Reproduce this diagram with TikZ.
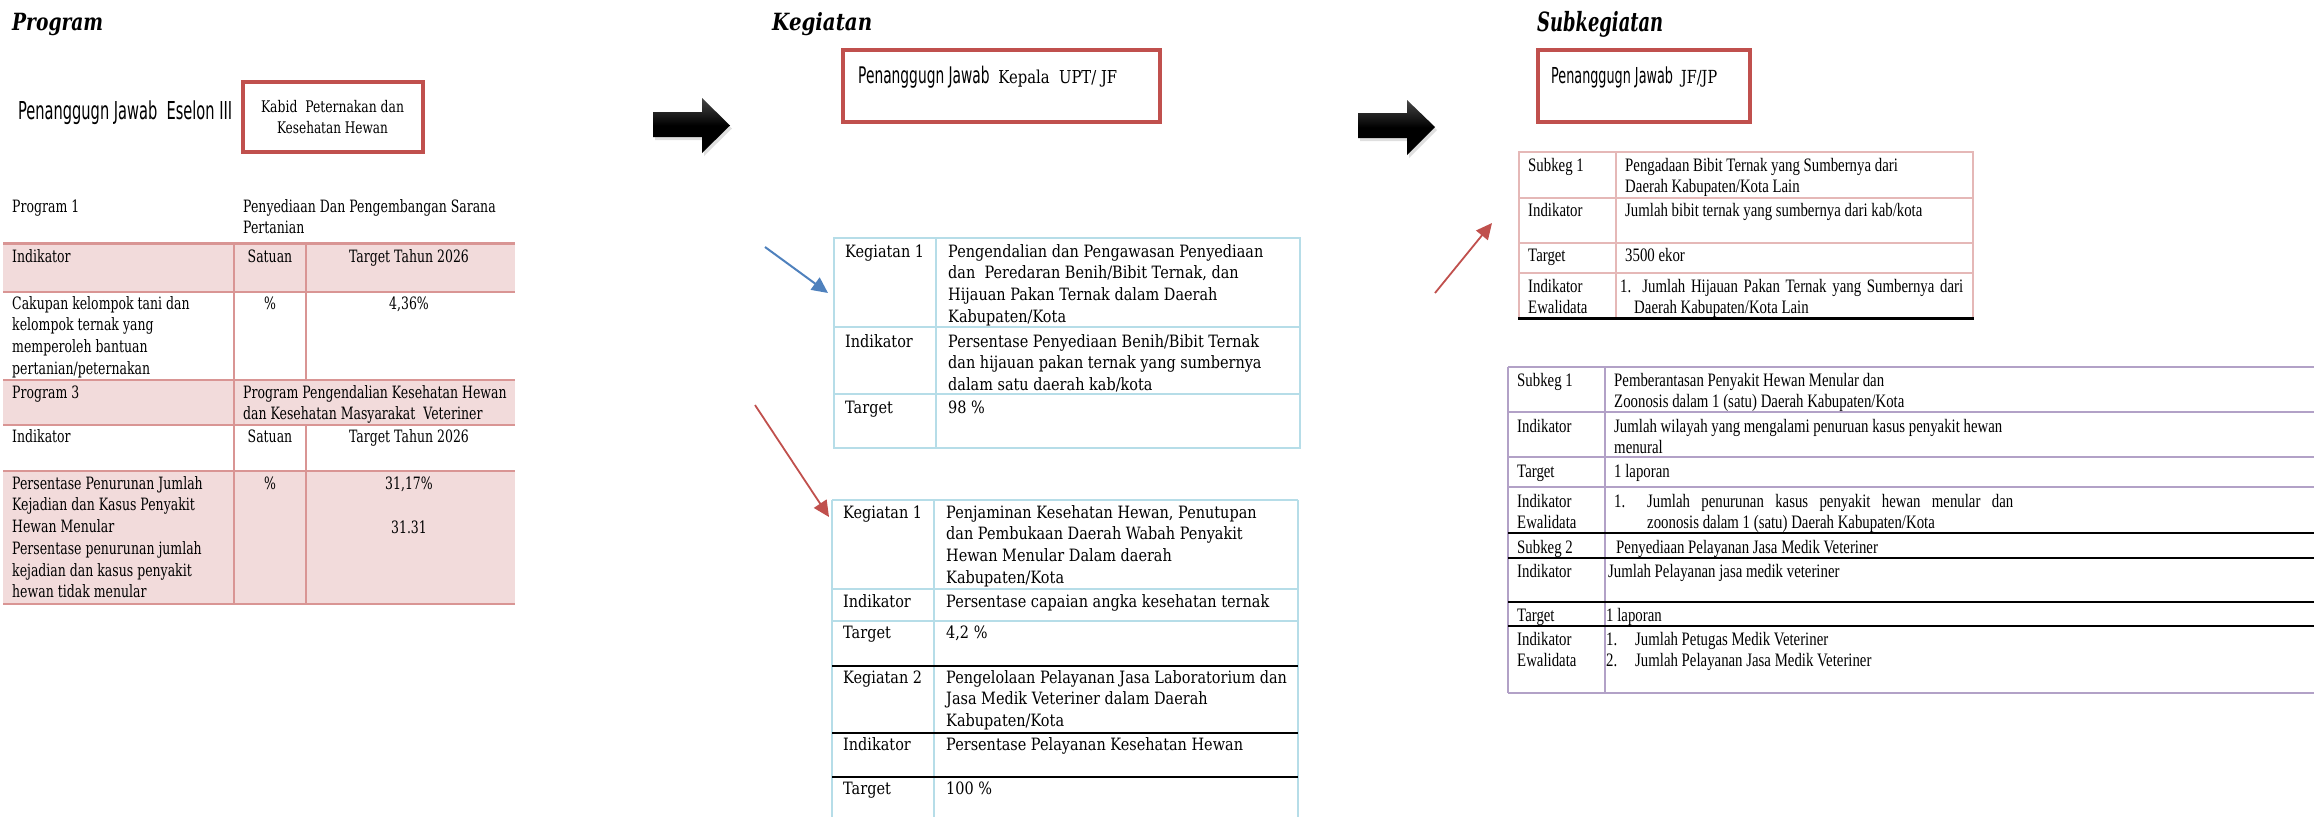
\documentclass[tikz,border=0pt]{standalone}
\usepackage{fontspec}
\usepackage{graphicx}
\usetikzlibrary{arrows.meta,shadows}
\setmainfont{DejaVu Serif}
\newfontfamily\progfont[FakeStretch=0.735]{DejaVu Serif}
\newfontfamily\kegfont[FakeStretch=0.85]{DejaVu Serif}
\newfontfamily\subfont[FakeStretch=0.78]{Liberation Serif}
\newfontfamily\hsans[FakeStretch=0.58]{DejaVu Sans}
\newfontfamily\hser[FakeStretch=0.80]{DejaVu Serif}
\newfontfamily\ttlfont[FakeStretch=0.80]{DejaVu Serif}
\newcommand\strutA{\rule{0pt}{15pt}}
\definecolor{boxred}{HTML}{C0504D}
\definecolor{pinkfill}{HTML}{F2DBDB}
\definecolor{pinkline}{HTML}{D99594}
\definecolor{bluel}{HTML}{B6DDE8}
\definecolor{arrblue}{HTML}{4F81BD}
\definecolor{pinkb}{HTML}{E5B8B7}
\definecolor{lav}{HTML}{B2A1C7}
\tikzset{
  txt/.style={inner sep=0pt, anchor=north west, align=left},
  pf/.style={txt, font=\progfont\fontsize{17}{21.7}\selectfont},
  kf/.style={txt, font=\kegfont\fontsize{17}{21.7}\selectfont},
  sf/.style={txt, font=\subfont\fontsize{19}{21.7}\selectfont},
  hd/.style={inner sep=0pt, anchor=base west},
  redbox/.style={draw=boxred, line width=4pt, inner sep=0pt},
  bigarrow/.style={top color=black!72, bottom color=black, middle color=black,
     drop shadow={opacity=0.25, shadow xshift=2pt, shadow yshift=-3pt}},
  link/.style={line width=2pt, -{Triangle[length=16pt,width=15pt]}},
}
\begin{document}
\begin{tikzpicture}[x=1pt,y=-1pt]
\useasboundingbox (0,0) rectangle (2314,817);

% ---------- titles ----------
\node[hd] (tprog) at (12,30) {\resizebox{91pt}{\height}{\ttlfont\bfseries\itshape\fontsize{23.7}{28}\selectfont Program}};
\node[hd] (tkeg) at (772,30) {\resizebox{100pt}{\height}{\ttlfont\bfseries\itshape\fontsize{23.7}{28}\selectfont Kegiatan}};
\node[hd] (tsub) at (1537,31) {\resizebox{126pt}{\height}{\ttlfont\bfseries\itshape\fontsize{26.5}{30}\selectfont Subkegiatan}};

% ---------- header boxes ----------
\node[hd] (pj1) at (18,119) {\resizebox{214pt}{\height}{\hsans\fontsize{24.7}{30}\selectfont Penanggugn Jawab\ \ Eselon III}};
\node[redbox, minimum width=180pt, minimum height=70pt] (kabidbox) at (333,117) {};
\node[inner sep=0pt, anchor=base] (kab1) at (332.5,112) {\resizebox{143pt}{\height}{\hser\fontsize{16}{20}\selectfont Kabid\ \ Peternakan dan}};
\node[inner sep=0pt, anchor=base] (kab2) at (332.5,133) {\resizebox{111pt}{\height}{\hser\fontsize{16}{20}\selectfont Kesehatan Hewan}};

\node[redbox, minimum width=317pt, minimum height=72pt] (kegbox) at (1001.5,86) {};
\node[hd] (pj2) at (858,83) {\resizebox{259pt}{\height}{\hsans\fontsize{22.9}{28}\selectfont Penanggugn Jawab\ \ \hser\fontsize{17.8}{22}\selectfont Kepala\ \ UPT/ JF}};

\node[redbox, minimum width=212pt, minimum height=72pt] (subbox) at (1644,86) {};
\node[hd] (pj3) at (1551,83) {\resizebox{166pt}{\height}{\hsans\fontsize{22}{28}\selectfont Penanggugn Jawab\ \ \hser\fontsize{18}{22}\selectfont JF/JP}};

% ---------- big black arrows ----------
\path[bigarrow] (653,112) -- (702,112) -- (702,98) -- (730,125.5) -- (702,153) -- (702,137) -- (653,137) -- cycle;
\path[bigarrow] (1358,113) -- (1407,113) -- (1407,100) -- (1435,127) -- (1407,155) -- (1407,138) -- (1358,138) -- cycle;

% ---------- program table ----------
\fill[pinkfill] (3,243) rectangle (515,292);
\fill[pinkfill] (3,380) rectangle (515,425);
\fill[pinkfill] (3,471) rectangle (515,604);
\draw[pinkline, line width=3pt] (3,243) -- (515,243);
\draw[pinkline, line width=1.5pt] (3,292) -- (515,292) (3,380) -- (515,380) (3,425) -- (515,425)
   (3,471) -- (515,471) (3,604) -- (515,604);
\draw[pinkline, line width=1.5pt] (234,243) -- (234,604) (306,243) -- (306,380) (306,425) -- (306,604);

\node[pf] (p1l) at (12,197) {\strutA Program 1};
\node[pf] (p1r) at (243,197) {\strutA Penyediaan Dan Pengembangan Sarana\\Pertanian};
\node[pf] (h1a) at (12,247) {\strutA Indikator};
\node[pf, anchor=north] (h1b) at (270,247) {\strutA Satuan};
\node[pf, anchor=north] (h1c) at (409,247) {\strutA Target Tahun 2026};
\node[pf] (r1a) at (12,294) {\strutA Cakupan kelompok tani dan\\kelompok ternak yang\\memperoleh bantuan\\pertanian/peternakan};
\node[pf, anchor=north] (r1b) at (270,294) {\strutA \%};
\node[pf, anchor=north] (r1c) at (409,294) {\strutA 4,36\%};
\node[pf] (p3l) at (12,383) {\strutA Program 3};
\node[pf] (p3r) at (243,383) {\strutA Program Pengendalian Kesehatan Hewan\\dan Kesehatan Masyarakat\ \ Veteriner};
\node[pf] (h2a) at (12,427) {\strutA Indikator};
\node[pf, anchor=north] (h2b) at (270,427) {\strutA Satuan};
\node[pf, anchor=north] (h2c) at (409,427) {\strutA Target Tahun 2026};
\node[pf] (r2a) at (12,474) {\strutA Persentase Penurunan Jumlah\\Kejadian dan Kasus Penyakit\\Hewan Menular\\Persentase penurunan jumlah\\kejadian dan kasus penyakit\\hewan tidak menular};
\node[pf, anchor=north] (r2b) at (270,474) {\strutA \%};
\node[pf, anchor=north] (r2c) at (409,474) {\strutA 31,17\%};
\node[pf, anchor=north] (r2d) at (409,518) {\strutA 31.31};

% ---------- kegiatan table 1 ----------
\draw[bluel, line width=2pt] (834,238) rectangle (1300,448);
\draw[bluel, line width=2pt] (834,327) -- (1300,327) (834,394) -- (1300,394) (936,238) -- (936,448);
\node[kf] (k1a) at (845,242) {\strutA Kegiatan 1};
\node[kf] (k1b) at (948,242) {\strutA Pengendalian dan Pengawasan Penyediaan\\dan\ \ Peredaran Benih/Bibit Ternak, dan\\Hijauan Pakan Ternak dalam Daerah\\Kabupaten/Kota};
\node[kf] (k1c) at (845,332) {\strutA Indikator};
\node[kf] (k1d) at (948,332) {\strutA Persentase Penyediaan Benih/Bibit Ternak\\dan hijauan pakan ternak yang sumbernya\\dalam satu daerah kab/kota};
\node[kf] (k1e) at (845,398) {\strutA Target};
\node[kf] (k1f) at (948,398) {\strutA 98 \%};

% ---------- kegiatan table 2 ----------
\draw[bluel, line width=2pt] (832,500) -- (832,817) (934,500) -- (934,817) (1298,500) -- (1298,817)
   (832,500) -- (1298,500) (832,589) -- (1298,589) (832,621) -- (1298,621);
\draw[black, line width=2pt] (832,666) -- (1298,666) (832,733) -- (1298,733) (832,777) -- (1298,777);
\node[kf] (k2a) at (843,503) {\strutA Kegiatan 1};
\node[kf] (k2b) at (946,503) {\strutA Penjaminan Kesehatan Hewan, Penutupan\\dan Pembukaan Daerah Wabah Penyakit\\Hewan Menular Dalam daerah\\Kabupaten/Kota};
\node[kf] (k2c) at (843,592) {\strutA Indikator};
\node[kf] (k2d) at (946,592) {\strutA Persentase capaian angka kesehatan ternak};
\node[kf] (k2e) at (843,623) {\strutA Target};
\node[kf] (k2f) at (946,623) {\strutA 4,2 \%};
\node[kf] (k2g) at (843,668) {\strutA Kegiatan 2};
\node[kf] (k2h) at (946,668) {\strutA Pengelolaan Pelayanan Jasa Laboratorium dan\\Jasa Medik Veteriner dalam Daerah\\Kabupaten/Kota};
\node[kf] (k2i) at (843,735) {\strutA Indikator};
\node[kf] (k2j) at (946,735) {\strutA Persentase Pelayanan Kesehatan Hewan};
\node[kf] (k2k) at (843,779) {\strutA Target};
\node[kf] (k2l) at (946,779) {\strutA 100 \%};

% ---------- subkegiatan table 1 ----------
\draw[pinkb, line width=2pt] (1519,152) rectangle (1973,318);
\draw[pinkb, line width=2pt] (1519,198) -- (1973,198) (1519,243) -- (1973,243) (1519,273) -- (1973,273) (1616,152) -- (1616,318);
\draw[black, line width=3pt] (1518,318) -- (1974,318);
\node[sf] (s1a) at (1528,156) {\strutA Subkeg 1};
\node[sf] (s1b) at (1625,156) {\strutA Pengadaan Bibit Ternak yang Sumbernya dari\\Daerah Kabupaten/Kota Lain};
\node[sf] (s1c) at (1528,201) {\strutA Indikator};
\node[sf] (s1d) at (1625,201) {\strutA Jumlah bibit ternak yang sumbernya dari kab/kota};
\node[sf] (s1e) at (1528,246) {\strutA Target};
\node[sf] (s1f) at (1625,246) {\strutA 3500 ekor};
\node[sf] (s1g) at (1528,277) {\strutA Indikator\\Ewalidata};
\node[sf] (s1h) at (1620,277) {\strutA\makebox[343pt][s]{1. Jumlah Hijauan Pakan Ternak yang Sumbernya dari}\\\hspace*{14pt}Daerah Kabupaten/Kota Lain};

% ---------- subkegiatan table 2 ----------
\draw[lav, line width=2pt] (1508,367) -- (2314,367) (1508,412) -- (2314,412) (1508,457) -- (2314,457)
   (1508,487) -- (2314,487) (1508,693) -- (2314,693) (1508,367) -- (1508,693) (1605,367) -- (1605,693);
\draw[black, line width=2.5pt] (1508,533) -- (2314,533) (1508,558) -- (2314,558) (1508,602) -- (2314,602) (1508,626) -- (2314,626);
\node[sf] (s2a) at (1517,371) {\strutA Subkeg 1};
\node[sf] (s2b) at (1614,371) {\strutA Pemberantasan Penyakit Hewan Menular dan\\Zoonosis dalam 1 (satu) Daerah Kabupaten/Kota};
\node[sf] (s2c) at (1517,417) {\strutA Indikator};
\node[sf] (s2d) at (1614,417) {\strutA Jumlah wilayah yang mengalami penuruan kasus penyakit hewan\\menural};
\node[sf] (s2e) at (1517,462) {\strutA Target};
\node[sf] (s2f) at (1614,462) {\strutA 1 laporan};
\node[sf] (s2g) at (1517,492) {\strutA Indikator\\Ewalidata};
\node[sf] (s2h) at (1614,492) {\strutA 1.};
\node[sf] (s2i) at (1647,492) {\strutA\makebox[366pt][s]{Jumlah penurunan kasus penyakit hewan menular dan}\\zoonosis dalam 1 (satu) Daerah Kabupaten/Kota};
\node[sf] (s2j) at (1517,538) {\strutA Subkeg 2};
\node[sf] (s2k) at (1616,538) {\strutA Penyediaan Pelayanan Jasa Medik Veteriner};
\node[sf] (s2l) at (1517,562) {\strutA Indikator};
\node[sf] (s2m) at (1608,562) {\strutA Jumlah Pelayanan jasa medik veteriner};
\node[sf] (s2n) at (1517,606) {\strutA Target};
\node[sf] (s2o) at (1606,606) {\strutA 1 laporan};
\node[sf] (s2p) at (1517,630) {\strutA Indikator\\Ewalidata};
\node[sf] (s2q) at (1606,630) {\strutA 1.\\2.};
\node[sf] (s2r) at (1635,630) {\strutA Jumlah Petugas Medik Veteriner\\Jumlah Pelayanan Jasa Medik Veteriner};

% ---------- connectors ----------
\coordinate (a1s) at (765,247);
\coordinate (a1e) at (828,293);
\coordinate (a2s) at (755,405);
\coordinate (a2e) at (829,517);
\coordinate (a3s) at (1435,293);
\coordinate (a3e) at (1492,223);
\draw[link, arrblue] (a1s) -- (a1e);
\draw[link, boxred, line width=1.8pt] (a2s) -- (a2e);
\draw[link, boxred, line width=1.8pt] (a3s) -- (a3e);
\end{tikzpicture}
\end{document}
